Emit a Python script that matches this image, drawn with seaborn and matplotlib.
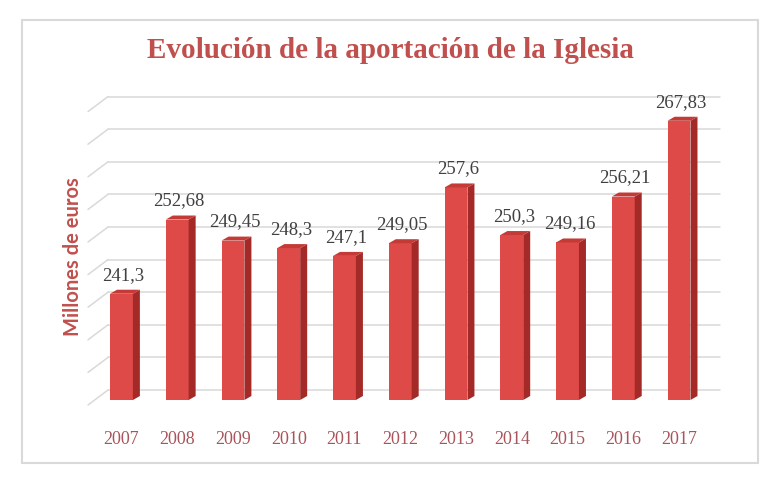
import numpy as np
import pandas as pd
import matplotlib
matplotlib.use("Agg")
import matplotlib.pyplot as plt
import matplotlib.transforms as mtransforms
from matplotlib.patches import Polygon, Rectangle
import seaborn as sns

years = ["2007", "2008", "2009", "2010", "2011", "2012", "2013", "2014", "2015", "2016", "2017"]
values = [241.3, 252.68, 249.45, 248.3, 247.1, 249.05, 257.6, 250.3, 249.16, 256.21, 267.83]
labels = ["241,3", "252,68", "249,45", "248,3", "247,1", "249,05", "257,6", "250,3", "249,16", "256,21", "267,83"]
grid_values = [225, 230, 235, 240, 245, 250, 255, 260, 265, 270]

df = pd.DataFrame({"year": years, "value": values})

sns.set_theme(style="white")
plt.rcParams['font.family'] = ['Liberation Serif', 'DejaVu Serif']

front = "#de4a47"
side = "#a32a27"
top = "#c33a37"
title_red = "#c0504d"
tick_red = "#a9545a"

fig = plt.figure(figsize=(7.81, 4.86), dpi=100)
fig.patch.set_facecolor("white")
ax = fig.add_axes([88 / 781, 86 / 486, 624.5 / 781, 326 / 486])
ax.set_facecolor("none")

sns.barplot(data=df, x="year", y="value", color=front, width=0.41,
            saturation=1, linewidth=0, edgecolor="none", ax=ax, zorder=3)
ax.set_xlim(-0.6, 10.6)
ax.set_ylim(225, 275)

# pixel -> data helpers
fig.canvas.draw()
px_x = 1 / (ax.transData.transform((1, 0))[0] - ax.transData.transform((0, 0))[0])
px_y = 1 / (ax.transData.transform((0, 1))[1] - ax.transData.transform((0, 0))[1])

# back wall gridlines with a slanted left edge
back = mtransforms.offset_copy(ax.transData, fig=fig, x=20, y=10, units='dots')
for v in grid_values:
    ax.plot([-0.6, 10.6 - 12 * px_x], [v, v], color="#d9d9d9", lw=1.1,
            transform=back, zorder=1, clip_on=False)
    ax.plot([-0.6 - 20 * px_x, -0.6], [v - 15 * px_y, v], color="#d9d9d9", lw=1.1,
            transform=back, zorder=1, clip_on=False)

# 3d side and top faces
dx, dy = 7 * px_x, 4 * px_y
base = ax.get_ylim()[0]
for p in ax.patches[:len(values)]:
    x0 = p.get_x()
    x1, y1 = x0 + p.get_width(), p.get_y() + p.get_height()
    y0 = base
    ax.add_patch(Polygon([(x1, y0), (x1 + dx, y0 + dy), (x1 + dx, y1 + dy), (x1, y1)],
                         closed=True, facecolor=side, edgecolor="none", zorder=3))
    ax.add_patch(Polygon([(x0, y1), (x0 + dx, y1 + dy), (x1 + dx, y1 + dy), (x1, y1)],
                         closed=True, facecolor=top, edgecolor="none", zorder=3))

for i, (v, lab) in enumerate(zip(values, labels)):
    ax.annotate(lab, (i, v), xytext=(2, 10), textcoords="offset pixels",
                ha="center", va="bottom", fontsize=13.5, color="#404040", zorder=5)

for s in ax.spines.values():
    s.set_visible(False)
ax.set_yticks([])
ax.tick_params(axis="x", length=0, pad=22, labelsize=13, labelcolor=tick_red)
ax.set_xlabel("")
ax.set_ylabel("Millones de euros", family=['Lato', 'DejaVu Sans'], fontweight="bold",
              fontsize=14.5, color=title_red)
ax.yaxis.set_label_coords(-0.008, 0.44)

fig.text(0.5, 1 - 50 / 486, "Evolución de la aportación de la Iglesia", ha="center", va="center",
         fontsize=21, fontweight="bold", color=title_red)

fig.add_artist(Rectangle((22 / 781, 1 - 463 / 486), 736 / 781, 443 / 486,
                         transform=fig.transFigure, fill=False, edgecolor="#d9d9d9", lw=1.5))

fig.savefig("out.png", dpi=100)
